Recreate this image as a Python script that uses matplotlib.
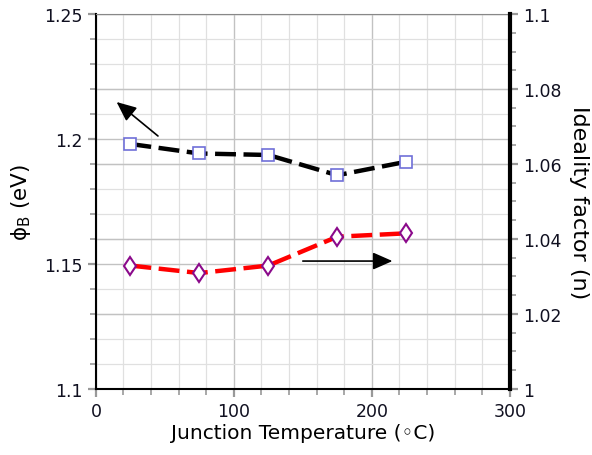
import numpy as np
import matplotlib
matplotlib.use('Agg')
import matplotlib.pyplot as plt
from matplotlib.ticker import MultipleLocator
from matplotlib.transforms import blended_transform_factory

# 數據
temp_c = [25, 75, 125, 175, 225]
phi_b = [1.198, 1.1942, 1.1936, 1.1855, 1.1909]
ideality = [1.0329, 1.0309, 1.0329, 1.0406, 1.0415]

phi_ticks = [1.1, 1.15, 1.2, 1.25]
phi_labels = ['1.1', '1.15', '1.2', '1.25']
n_ticks = [1.0, 1.02, 1.04, 1.06, 1.08, 1.1]
n_labels = ['1', '1.02', '1.04', '1.06', '1.08', '1.1']

plt.rcParams['font.family'] = ['DejaVu Sans']

fig = plt.figure(figsize=(5.92, 4.56), dpi=100)
ax1 = fig.add_axes([0.162, 0.145, 0.699, 0.822])
ax2 = ax1.twinx()

ax1.set_xlim(0, 300)
ax1.set_ylim(1.1, 1.25)
ax2.set_ylim(1.0, 1.1)

# 網格
ax1.xaxis.set_major_locator(MultipleLocator(100))
ax1.xaxis.set_minor_locator(MultipleLocator(20))
ax1.yaxis.set_minor_locator(MultipleLocator(0.01))
ax1.set_yticks(phi_ticks)
ax1.set_yticklabels(phi_labels)
ax1.grid(True, which='major', color='#c2c2c2', lw=1.0)
ax1.grid(True, which='minor', color='#e0e0e0', lw=0.9)
ax1.set_axisbelow(True)

# 右軸主網格畫在左軸底層
trans = blended_transform_factory(ax1.transAxes, ax2.transData)
for t in n_ticks:
    ax1.plot([0, 1], [t, t], transform=trans, color='#c2c2c2', lw=1.0, zorder=0.6)

# 左軸 phi_B
ax1.plot(temp_c, phi_b, color='black', lw=3.2, dashes=(4.7, 1.7),
         marker='s', markersize=8, markerfacecolor='white',
         markeredgecolor='#7070d8', markeredgewidth=1.2, zorder=5)

# 右軸 ideality factor
ax2.plot(temp_c, ideality, color='red', lw=3.2, dashes=(4.7, 1.7),
         marker='d', markersize=9.5, markerfacecolor='white',
         markeredgecolor='#8b0a8b', markeredgewidth=1.5, zorder=5)
ax2.yaxis.set_minor_locator(MultipleLocator(0.005))
ax2.set_yticks(n_ticks)
ax2.set_yticklabels(n_labels)

for ax in (ax1, ax2):
    ax.tick_params(which='major', direction='out', length=6, width=1.6,
                   color='#999999', labelsize=12.5, labelcolor='#101020')
    ax.tick_params(which='minor', direction='out', length=4, width=1.2,
                   color='#999999')
    for s in ax.spines.values():
        s.set_visible(False)

ax1.spines['left'].set_visible(True)
ax1.spines['left'].set_linewidth(1.5)
ax1.spines['bottom'].set_visible(True)
ax1.spines['bottom'].set_linewidth(1.5)
ax1.spines['top'].set_visible(True)
ax1.spines['top'].set_color('#888888')
ax2.spines['right'].set_visible(True)
ax2.spines['right'].set_linewidth(3)

ax1.set_xlabel('Junction Temperature (◦C)', fontsize=14.5, labelpad=2)
ax1.set_ylabel('ϕ$_\\mathregular{B}$ (eV)', fontsize=15.5, labelpad=8)
ax2.set_ylabel('Ideality factor (n)', fontsize=16, rotation=270, labelpad=20)

# 箭頭
head = '-|>,head_length=0.5,head_width=0.22'
ax1.annotate('', xy=(15, 1.2148), xytext=(45, 1.2012),
             arrowprops=dict(arrowstyle=head, color='black', lw=1.2,
                             mutation_scale=24, shrinkA=0, shrinkB=0))
ax2.annotate('', xy=(215, 1.0341), xytext=(150, 1.0341),
             arrowprops=dict(arrowstyle=head, color='black', lw=1.2,
                             mutation_scale=24, shrinkA=0, shrinkB=0))

fig.savefig('out.png', dpi=100)
